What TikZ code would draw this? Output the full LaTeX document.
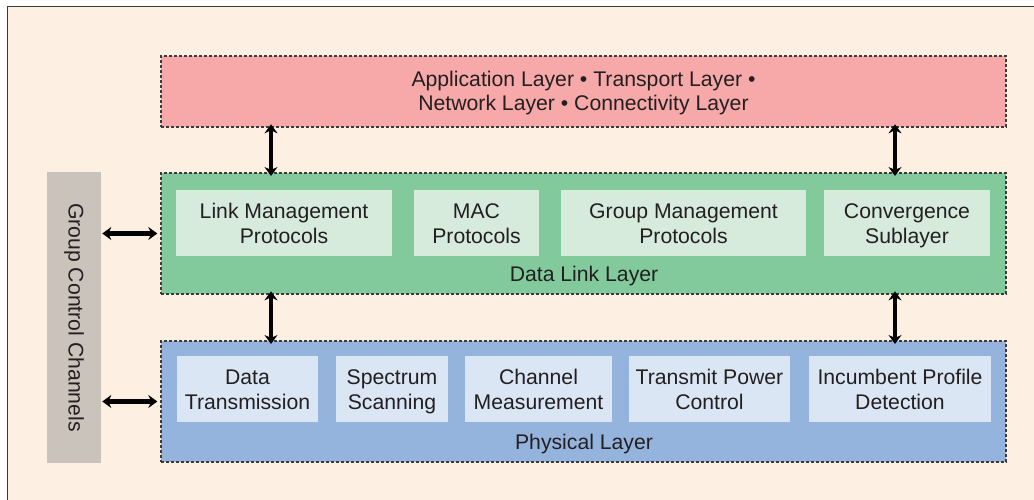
\documentclass[tikz,border=0pt]{standalone}
\usepackage{fontspec}
\setmainfont{Liberation Sans}
\usetikzlibrary{arrows.meta}
\definecolor{bgcream}{HTML}{FDEFE1}
\definecolor{framegray}{HTML}{3A3A3A}
\definecolor{appred}{HTML}{F7A9AA}
\definecolor{linkgreen}{HTML}{82CA9C}
\definecolor{linkpale}{HTML}{D7EBDD}
\definecolor{phyblue}{HTML}{94B4DE}
\definecolor{phypale}{HTML}{DBE6F4}
\definecolor{ctrlgray}{HTML}{C9C3BC}
\definecolor{inkgray}{HTML}{231F20}
\tikzset{
  x=1pt, y=-1pt,
  every node/.style={text=inkgray, font=\fontsize{21.2}{25}\selectfont, inner sep=0pt, outer sep=0pt},
  layerbox/.style={draw=framegray, line width=1.1pt, dash pattern=on 3pt off 2pt, rectangle, anchor=center},
  subbox/.style={rectangle, anchor=center, align=center, minimum height=66pt,
    text height=46.6pt, text depth=6pt},
  tipend/.tip={Stealth[length=9pt,width=13pt,inset=3pt]},
  linkarrow/.style={line width=4.3pt, tipend-tipend},
}
\begin{document}
\begin{tikzpicture}
\useasboundingbox (0,0) rectangle (1034,500);
% page frame
\begin{scope}
\clip (0,0) rectangle (1034,500);
\fill[bgcream] (7,7) rectangle (1040,510);
\draw[framegray, line width=1pt] (7,510) -- (7,7) -- (1040,7);
\end{scope}

% layer boxes
\node[layerbox, fill=appred, minimum width=845pt, minimum height=71pt, align=center,
  font=\fontsize{21.2}{24}\selectfont, text height=44.4pt, text depth=6pt] (app) at (583.5,91.5)
  {Application Layer • Transport Layer •\\Network Layer • Connectivity Layer};
\node[layerbox, fill=linkgreen, minimum width=845pt, minimum height=121pt] (dll) at (583.5,233.5) {};
\node[layerbox, fill=phyblue, minimum width=845pt, minimum height=121pt] (phy) at (583.5,401.5) {};

% group control channels
\node[fill=ctrlgray, minimum width=54pt, minimum height=291pt] (gcc) at (74,317.5) {};
\node[rotate=-90] (gcclabel) at (74,317.5) {Group Control Channels};

% data link sublayer blocks
\node[subbox, fill=linkpale, minimum width=216pt] (lm) at (284,223) {Link Management\\Protocols};
\node[subbox, fill=linkpale, minimum width=125pt] (mac) at (476.5,223) {MAC\\Protocols};
\node[subbox, fill=linkpale, minimum width=245pt] (gm) at (683.5,223) {Group Management\\Protocols};
\node[subbox, fill=linkpale, minimum width=166pt] (conv) at (907,223) {Convergence\\Sublayer};
\node[anchor=base] (dlllabel) at (584,281.5) {Data Link Layer};

% physical layer blocks
\node[subbox, fill=phypale, minimum width=141pt] (dt) at (247.5,389) {Data\\Transmission};
\node[subbox, fill=phypale, minimum width=112pt] (ss) at (392,389) {Spectrum\\Scanning};
\node[subbox, fill=phypale, minimum width=147pt] (cm) at (538.5,389) {Channel\\Measurement};
\node[subbox, fill=phypale, minimum width=161pt] (tp) at (709.5,389) {Transmit Power\\Control};
\node[subbox, fill=phypale, minimum width=182pt] (ip) at (900,389) {Incumbent Profile\\Detection};
\node[anchor=base] (phylabel) at (584,449.3) {Physical Layer};

% connectors between layers
\draw[linkarrow] ([xshift=-312.5pt, yshift=2.7pt]app.south) -- ([xshift=-312.5pt, yshift=-3pt]dll.north);
\draw[linkarrow] ([xshift=311.5pt, yshift=2.7pt]app.south) -- ([xshift=311.5pt, yshift=-3pt]dll.north);
\draw[linkarrow] ([xshift=-312.5pt, yshift=2.7pt]dll.south) -- ([xshift=-312.5pt, yshift=-3pt]phy.north);
\draw[linkarrow] ([xshift=311.5pt, yshift=2.7pt]dll.south) -- ([xshift=311.5pt, yshift=-3pt]phy.north);
% connectors to the group control channels
\draw[linkarrow] ([xshift=1.3pt]gcc.east |- dll.west) -- ([xshift=-3.7pt]dll.west);
\draw[linkarrow] ([xshift=1.3pt]gcc.east |- phy.west) -- ([xshift=-3.7pt]phy.west);
\end{tikzpicture}
\end{document}
